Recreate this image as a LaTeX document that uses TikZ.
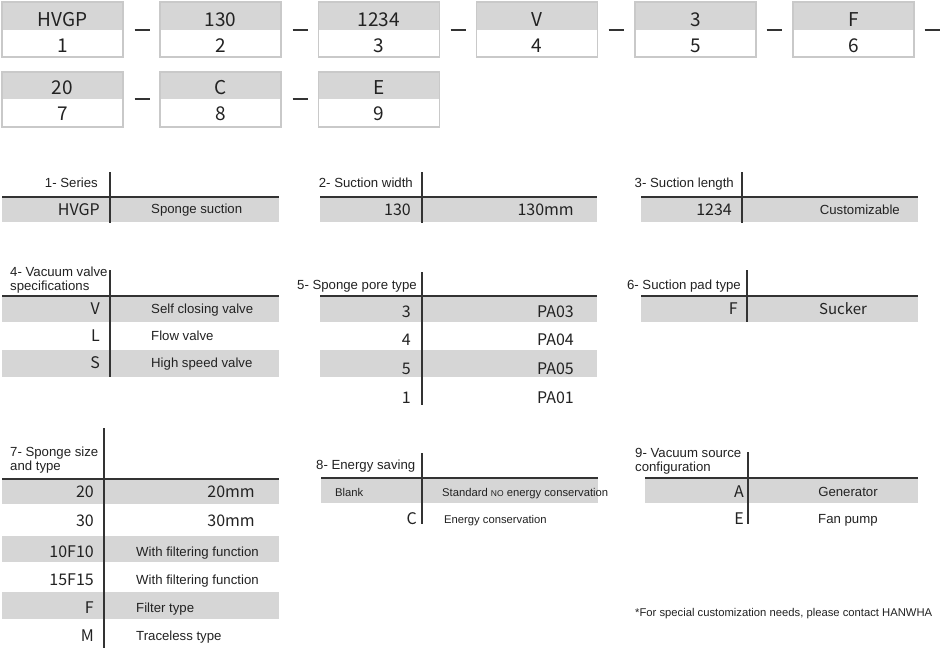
\documentclass[tikz,border=0pt]{standalone}
\usepackage{fontspec}
\setmainfont{Liberation Sans}
\newfontfamily\cjkf{Noto Sans CJK SC}
\definecolor{bandgray}{HTML}{D6D6D6}
\definecolor{boxline}{HTML}{C9C9C9}
\definecolor{rulecol}{HTML}{333333}
\definecolor{txt}{HTML}{222222}
\tikzset{
  boxtop/.style={fill=bandgray, draw=none},
  boxframe/.style={draw=boxline, line width=1.5pt},
  dashln/.style={draw=rulecol, line width=1.6pt},
  boxtxt/.style={font=\cjkf\fontsize{19}{19}\selectfont, text=txt, inner sep=0pt, anchor=base},
  hdr/.style={font=\fontsize{13.2}{13.2}\selectfont, text=txt, inner sep=0pt},
  desc/.style={font=\fontsize{13.2}{13.2}\selectfont, text=txt, inner sep=0pt},
  smalltxt/.style={font=\fontsize{11.25}{11.25}\selectfont, text=txt, inner sep=0pt},
  code/.style={font=\cjkf\fontsize{16}{16}\selectfont, text=txt, inner sep=0pt},
  band/.style={fill=bandgray, draw=none},
  rule/.style={draw=rulecol, line width=1.3pt},
}
\begin{document}
\begin{tikzpicture}[x=1pt,y=-1pt]
\fill[white] (0,0) rectangle (945,659);
\useasboundingbox (0,0) rectangle (945,659);

% ---------- code boxes, row 1 ----------
\foreach \x/\a/\b [count=\i] in {2/HVGP/1,160.2/130/2,318.4/1234/3,476.6/V/4,634.8/3/5,793/F/6}{
  \fill[boxtop] (\x,2) rectangle (\x+121,30);
  \draw[boxframe] (\x,2) rectangle (\x+121,57);
  \node[boxtxt] (tc\i) at (\x+60.5,26) {\a};
  \node[boxtxt] (tn\i) at (\x+60.5,52) {\b};
}
\foreach \x in {142,300,458,616,774,932}{
  \draw[dashln] (\x-7.5,30) -- (\x+7.5,30);
}
% ---------- code boxes, row 2 ----------
\foreach \x/\a/\b [count=\i from 7] in {2/20/7,160.2/C/8,318.4/E/9}{
  \fill[boxtop] (\x,72) rectangle (\x+121,99);
  \draw[boxframe] (\x,72) rectangle (\x+121,127);
  \node[boxtxt] (tc\i) at (\x+60.5,94) {\a};
  \node[boxtxt] (tn\i) at (\x+60.5,120) {\b};
}
\foreach \x in {142,300}{
  \draw[dashln] (\x-7.5,99) -- (\x+7.5,99);
}

% ---------- table 1 ----------
\fill[band] (2,197) rectangle (279,222);
\draw[rule] (2,197) -- (279,197);
\draw[rule] (110,172) -- (110,223);
\node[hdr, anchor=base east] (h1) at (98,187.7) {1- Series};
\node[code, anchor=base east] (c1a) at (100,215.8) {HVGP};
\node[desc, anchor=base west] (d1a) at (151,213.7) {Sponge suction};

% ---------- table 2 ----------
\fill[band] (320,197) rectangle (597,222);
\draw[rule] (320,197) -- (597,197);
\draw[rule] (422,172) -- (422,223);
\node[hdr, anchor=base east] (h2) at (413,187.7) {2- Suction width};
\node[code, anchor=base east] (c2a) at (411,215.8) {130};
\node[code, anchor=base east] (d2a) at (574,215.8) {130mm};

% ---------- table 3 ----------
\fill[band] (641,197) rectangle (918,222);
\draw[rule] (641,197) -- (918,197);
\draw[rule] (742,172) -- (742,223);
\node[hdr, anchor=base east] (h3) at (734,187.7) {3- Suction length};
\node[code, anchor=base east] (c3a) at (732,215.8) {1234};
\node[desc, anchor=base east] (d3a) at (900,214.7) {Customizable};

% ---------- table 4 ----------
\fill[band] (2,296) rectangle (279,322);
\fill[band] (2,350) rectangle (279,377);
\draw[rule] (2,296) -- (279,296);
\draw[rule] (110,270) -- (110,377);
\node[hdr, anchor=base west] (h4a) at (10,276.7) {4- Vacuum valve};
\node[hdr, anchor=base west] (h4b) at (10,290.7) {specifications};
\node[code, anchor=base east] (c4a) at (100,314.8) {V};
\node[desc, anchor=base west] (d4a) at (151,313.7) {Self closing valve};
\node[code, anchor=base east] (c4b) at (100,341.8) {L};
\node[desc, anchor=base west] (d4b) at (151,340.7) {Flow valve};
\node[code, anchor=base east] (c4c) at (100,368.8) {S};
\node[desc, anchor=base west] (d4c) at (151,367.7) {High speed valve};

% ---------- table 5 ----------
\fill[band] (320,296) rectangle (597,322);
\fill[band] (320,350) rectangle (597,377);
\draw[rule] (320,296) -- (597,296);
\draw[rule] (422,272) -- (422,405);
\node[hdr, anchor=base east] (h5) at (417,289.7) {5- Sponge pore type};
\node[code, anchor=base east] (c5a) at (411,317.8) {3};
\node[code, anchor=base east] (d5a) at (574,317.8) {PA03};
\node[code, anchor=base east] (c5b) at (411,345.8) {4};
\node[code, anchor=base east] (d5b) at (574,345.8) {PA04};
\node[code, anchor=base east] (c5c) at (411,374.8) {5};
\node[code, anchor=base east] (d5c) at (574,374.8) {PA05};
\node[code, anchor=base east] (c5d) at (411,403.8) {1};
\node[code, anchor=base east] (d5d) at (574,403.8) {PA01};

% ---------- table 6 ----------
\fill[band] (641,296) rectangle (918,322);
\draw[rule] (641,296) -- (918,296);
\draw[rule] (747,270) -- (747,322);
\node[hdr, anchor=base east] (h6) at (741,289.7) {6- Suction pad type};
\node[code, anchor=base east] (c6a) at (738,314.8) {F};
\node[code, font=\cjkf\fontsize{15}{15}\selectfont, anchor=base] (d6a) at (843,314.5) {Sucker};

% ---------- table 7 ----------
\fill[band] (2,479) rectangle (279,504);
\fill[band] (2,536) rectangle (279,562);
\fill[band] (2,592) rectangle (279,619);
\draw[rule] (2,479) -- (279,479);
\draw[rule] (104,428) -- (104,648);
\node[hdr, anchor=base west] (h7a) at (10,456.7) {7- Sponge size};
\node[hdr, anchor=base west] (h7b) at (10,470.7) {and type};
\node[code, anchor=base east] (c7a) at (94,497.8) {20};
\node[code, anchor=base east] (d7a) at (255,497.8) {20mm};
\node[code, anchor=base east] (c7b) at (94,526.8) {30};
\node[code, anchor=base east] (d7b) at (255,526.8) {30mm};
\node[code, anchor=base east] (c7c) at (94,557.8) {10F10};
\node[desc, anchor=base west] (d7c) at (136,556.7) {With filtering function};
\node[code, anchor=base east] (c7d) at (94,585.8) {15F15};
\node[desc, anchor=base west] (d7d) at (136,584.7) {With filtering function};
\node[code, anchor=base east] (c7e) at (94,613.8) {F};
\node[desc, anchor=base west] (d7e) at (136,612.7) {Filter type};
\node[code, anchor=base east] (c7f) at (94,641.8) {M};
\node[desc, anchor=base west] (d7f) at (136,640.7) {Traceless type};

% ---------- table 8 ----------
\fill[band] (321,478) rectangle (598,503);
\draw[rule] (321,478) -- (598,478);
\draw[rule] (422,453) -- (422,524);
\node[hdr, anchor=base west] (h8) at (316,469.7) {8- Energy saving};
\node[smalltxt, anchor=base west] (c8a) at (335,496) {Blank};
\node[smalltxt, anchor=base west] (d8a) at (442,496) {Standard {\fontsize{8.5}{8.5}\selectfont NO} energy conservation};
\node[code, anchor=base east] (c8b) at (417,524.8) {C};
\node[smalltxt, anchor=base west] (d8b) at (444,523) {Energy conservation};

% ---------- table 9 ----------
\fill[band] (645,478) rectangle (918,503);
\draw[rule] (645,478) -- (918,478);
\draw[rule] (748,452) -- (748,524);
\node[hdr, anchor=base west] (h9a) at (635,457.7) {9- Vacuum source};
\node[hdr, anchor=base west] (h9b) at (635,471.7) {configuration};
\node[code, anchor=base east] (c9a) at (744,497.8) {A};
\node[desc, anchor=base] (d9a) at (848,496.7) {Generator};
\node[code, anchor=base east] (c9b) at (744,524.8) {E};
\node[desc, anchor=base west] (d9b) at (818,523.7) {Fan pump};

% ---------- footnote ----------
\node[smalltxt, anchor=base west] (note) at (635,616) {*For special customization needs, please contact HANWHA};
\end{tikzpicture}
\end{document}
